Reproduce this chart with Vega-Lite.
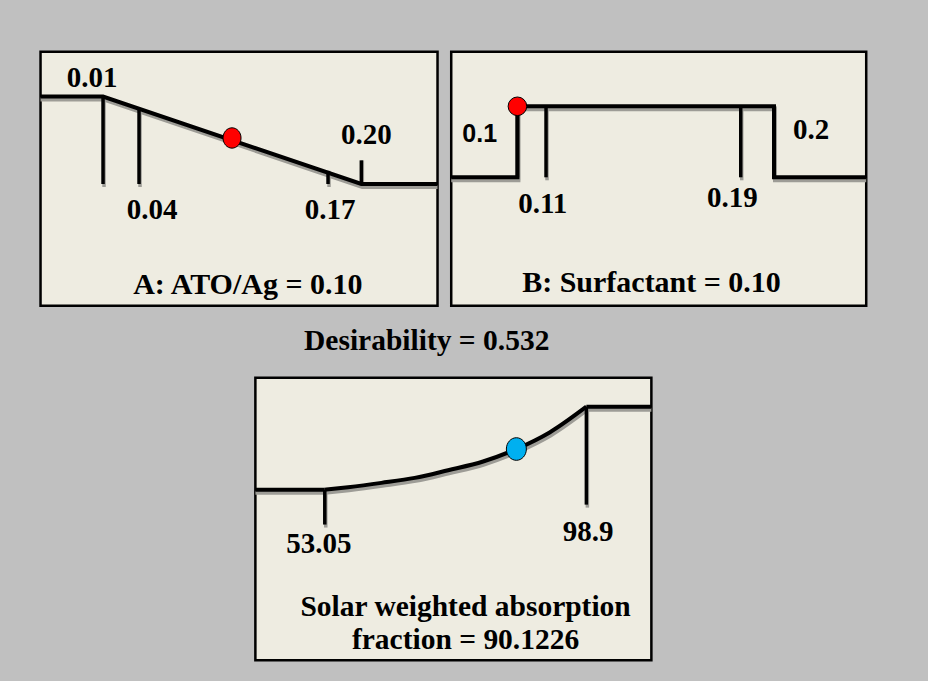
{
  "$schema": "https://vega.github.io/schema/vega-lite/v6.json",
  "background": "#c0c0c0",
  "padding": {"left": 38.5, "top": 49.7, "right": 70, "bottom": 30},
  "config": {
    "view": {"fill": "#eeece1", "stroke": "#000000", "strokeWidth": 2.5},
    "title": {"font": "Liberation Serif", "fontWeight": "bold", "fontSize": 30, "color": "#000000"},
    "text": {"font": "Liberation Serif", "fontWeight": "bold", "fontSize": 29, "color": "#000000", "baseline": "alphabetic", "align": "center"},
    "rule": {"strokeCap": "butt"}
  },
  "datasets": {
    "a_line": [
      {"k": 0, "v": -0.06, "d": 1},
      {"k": 1, "v": 0.01, "d": 1},
      {"k": 2, "v": 0.2, "d": 0},
      {"k": 3, "v": 0.3, "d": 0}
    ],
    "a_ticks": [
      {"v": 0.01, "d": 0, "d2": 1, "label": "0.01"},
      {"v": 0.04, "d": 0, "d2": 0.85, "label": "0.04"},
      {"v": 0.17, "d": 0, "d2": 0.15, "label": "0.17"},
      {"v": 0.2, "d": 0, "d2": 0.27, "label": "0.20"}
    ],
    "a_point": [{"v": 0.1, "d": 0.526}],
    "b_line": [
      {"k": 0, "v": 0.0, "d": 0},
      {"k": 1, "v": 0.1, "d": 0},
      {"k": 2, "v": 0.1, "d": 1},
      {"k": 3, "v": 0.2, "d": 1},
      {"k": 4, "v": 0.2, "d": 0},
      {"k": 5, "v": 0.3, "d": 0}
    ],
    "b_ticks": [
      {"v": 0.1, "d": 0, "d2": 1, "label": "0.1"},
      {"v": 0.11, "d": 0, "d2": 1, "label": "0.11"},
      {"v": 0.19, "d": 0, "d2": 1, "label": "0.19"},
      {"v": 0.2, "d": 0, "d2": 1, "label": "0.2"}
    ],
    "b_point": [{"v": 0.1, "d": 1}],
    "c_line": [
      {"seg": "low", "k": 0, "v": 35, "d": 0},
      {"seg": "low", "k": 1, "v": 53.05, "d": 0},
      {"seg": "ramp", "k": 2, "v": 53.05, "d": 0},
      {"seg": "ramp", "k": 3, "v": 57.56, "d": 0.03},
      {"seg": "ramp", "k": 4, "v": 64.0, "d": 0.082},
      {"seg": "ramp", "k": 5, "v": 70.46, "d": 0.142},
      {"seg": "ramp", "k": 6, "v": 76.91, "d": 0.235},
      {"seg": "ramp", "k": 7, "v": 83.68, "d": 0.34},
      {"seg": "ramp", "k": 8, "v": 90.1226, "d": 0.49},
      {"seg": "ramp", "k": 9, "v": 94.29, "d": 0.69},
      {"seg": "ramp", "k": 10, "v": 98.9, "d": 1},
      {"seg": "high", "k": 11, "v": 98.9, "d": 1},
      {"seg": "high", "k": 12, "v": 110, "d": 1}
    ],
    "c_ticks": [
      {"v": 53.05, "d": -0.42, "d2": 0, "label": "53.05"},
      {"v": 98.9, "d": -0.18, "d2": 1, "label": "98.9"}
    ],
    "c_point": [{"v": 90.1226, "d": 0.49}]
  },
  "spacing": 20,
  "center": true,
  "vconcat": [
    {
      "title": {"text": "Desirability = 0.532", "orient": "bottom", "anchor": "start", "fontSize": 29.5, "dx": 264.8, "offset": 43, "baseline": "alphabetic"},
      "spacing": 9.7,
      "hconcat": [
        {
          "width": 397,
          "height": 254,
          "title": {"text": "A: ATO/Ag = 0.10", "orient": "bottom", "frame": "group", "anchor": "middle", "dx": 8.8, "offset": -12, "baseline": "alphabetic"},
          "encoding": {
            "x": {"field": "v", "type": "quantitative", "axis": null,
                  "scale": {"domain": [0.01, 0.04, 0.1, 0.17, 0.2], "range": [62.5, 98.5, 191.5, 287.5, 320.8]}},
            "y": {"field": "d", "type": "quantitative", "axis": null,
                  "scale": {"domain": [0, 1], "range": [132.3, 44.8]}}
          },
          "layer": [
            {"data": {"name": "a_line"}, "mark": {"type": "line", "clip": true, "color": "#9d9c96", "strokeWidth": 4, "xOffset": 1, "yOffset": 3},
             "encoding": {"order": {"field": "k", "type": "quantitative"}}},
            {"data": {"name": "a_ticks"}, "mark": {"type": "rule", "color": "#9d9c96", "strokeWidth": 3.5, "xOffset": 1, "yOffset": 3},
             "encoding": {"y2": {"field": "d2"}}},
            {"data": {"name": "a_line"}, "mark": {"type": "line", "clip": true, "color": "#000000", "strokeWidth": 4},
             "encoding": {"order": {"field": "k", "type": "quantitative"}}},
            {"data": {"name": "a_ticks"}, "mark": {"type": "rule", "color": "#000000", "strokeWidth": 3.5},
             "encoding": {"y2": {"field": "d2"}}},
            {"data": {"name": "a_point"},
             "mark": {"type": "point", "filled": true, "shape": "M1,0A1,1.13,0,1,1,-1,0A1,1.13,0,1,1,1,0Z", "size": 324, "fill": "#ff0000", "stroke": "#000000", "strokeWidth": 1, "opacity": 1}},
            {"data": {"name": "a_ticks"}, "transform": [{"filter": "datum.label === '0.01'"}],
             "mark": {"type": "text", "dx": -11, "dy": -9.5},
             "encoding": {"y": {"field": "d2", "type": "quantitative"}, "text": {"field": "label"}}},
            {"data": {"name": "a_ticks"}, "transform": [{"filter": "datum.label === '0.04'"}],
             "mark": {"type": "text", "dx": 13, "dy": 35.3},
             "encoding": {"text": {"field": "label"}}},
            {"data": {"name": "a_ticks"}, "transform": [{"filter": "datum.label === '0.17'"}],
             "mark": {"type": "text", "dx": 2, "dy": 34.7},
             "encoding": {"text": {"field": "label"}}},
            {"data": {"name": "a_ticks"}, "transform": [{"filter": "datum.label === '0.20'"}],
             "mark": {"type": "text", "dx": 5, "dy": -16.7},
             "encoding": {"y": {"field": "d2", "type": "quantitative"}, "text": {"field": "label"}}}
          ]
        },
        {
          "width": 415,
          "height": 254,
          "title": {"text": "B: Surfactant = 0.10", "orient": "bottom", "frame": "group", "anchor": "middle", "dx": -7.2, "offset": -13.7, "baseline": "alphabetic"},
          "encoding": {
            "x": {"field": "v", "type": "quantitative", "axis": null,
                  "scale": {"domain": [0.1, 0.11, 0.19, 0.2], "range": [66.2, 94.8, 289.5, 322.8]}},
            "y": {"field": "d", "type": "quantitative", "axis": null,
                  "scale": {"domain": [0, 1], "range": [125.6, 54.6]}}
          },
          "layer": [
            {"data": {"name": "b_line"}, "mark": {"type": "line", "clip": true, "color": "#9d9c96", "strokeWidth": 4, "xOffset": 1, "yOffset": 3},
             "encoding": {"order": {"field": "k", "type": "quantitative"}}},
            {"data": {"name": "b_ticks"}, "mark": {"type": "rule", "color": "#9d9c96", "strokeWidth": 3.5, "xOffset": 1, "yOffset": 3},
             "encoding": {"y2": {"field": "d2"}}},
            {"data": {"name": "b_line"}, "mark": {"type": "line", "clip": true, "color": "#000000", "strokeWidth": 4},
             "encoding": {"order": {"field": "k", "type": "quantitative"}}},
            {"data": {"name": "b_ticks"}, "mark": {"type": "rule", "color": "#000000", "strokeWidth": 3.5},
             "encoding": {"y2": {"field": "d2"}}},
            {"data": {"name": "b_point"},
             "mark": {"type": "point", "filled": true, "shape": "circle", "size": 346, "fill": "#ff0000", "stroke": "#000000", "strokeWidth": 1, "opacity": 1}},
            {"data": {"name": "b_ticks"}, "transform": [{"filter": "datum.label === '0.1'"}],
             "mark": {"type": "text", "font": "Liberation Sans", "fontSize": 25, "dx": -37.7, "dy": -35.3},
             "encoding": {"text": {"field": "label"}}},
            {"data": {"name": "b_ticks"}, "transform": [{"filter": "datum.label === '0.11'"}],
             "mark": {"type": "text", "dx": -3.3, "dy": 35.4},
             "encoding": {"text": {"field": "label"}}},
            {"data": {"name": "b_ticks"}, "transform": [{"filter": "datum.label === '0.19'"}],
             "mark": {"type": "text", "dx": -8.3, "dy": 29.7},
             "encoding": {"text": {"field": "label"}}},
            {"data": {"name": "b_ticks"}, "transform": [{"filter": "datum.label === '0.2'"}],
             "mark": {"type": "text", "dx": 37.2, "dy": -38},
             "encoding": {"text": {"field": "label"}}}
          ]
        }
      ]
    },
    {
      "width": 396,
      "height": 282.5,
      "title": {"text": ["Solar weighted absorption", "fraction = 90.1226"], "orient": "bottom", "frame": "group", "anchor": "middle", "fontSize": 29.5, "dx": 12.2, "offset": -44, "baseline": "alphabetic", "lineHeight": 33.3},
      "encoding": {
        "x": {"field": "v", "type": "quantitative", "axis": null,
              "scale": {"domain": [53.05, 90.1226, 98.9], "range": [69.4, 261, 331]}},
        "y": {"field": "d", "type": "quantitative", "axis": null,
              "scale": {"domain": [0, 1], "range": [112, 29]}}
      },
      "layer": [
        {"data": {"name": "c_line"}, "mark": {"type": "line", "clip": true, "color": "#9d9c96", "strokeWidth": 4, "xOffset": 1, "yOffset": 3, "interpolate": "monotone"},
         "encoding": {"detail": {"field": "seg"}, "order": {"field": "k", "type": "quantitative"}}},
        {"data": {"name": "c_ticks"}, "mark": {"type": "rule", "color": "#9d9c96", "strokeWidth": 3.5, "xOffset": 1, "yOffset": 3},
         "encoding": {"y2": {"field": "d2"}}},
        {"data": {"name": "c_line"}, "mark": {"type": "line", "clip": true, "color": "#000000", "strokeWidth": 4, "interpolate": "monotone"},
         "encoding": {"detail": {"field": "seg"}, "order": {"field": "k", "type": "quantitative"}}},
        {"data": {"name": "c_ticks"}, "mark": {"type": "rule", "color": "#000000", "strokeWidth": 3.5},
         "encoding": {"y2": {"field": "d2"}}},
        {"data": {"name": "c_point"},
         "mark": {"type": "point", "filled": true, "shape": "M1,0A1,1.13,0,1,1,-1,0A1,1.13,0,1,1,1,0Z", "size": 400, "fill": "#00b0f0", "stroke": "#000000", "strokeWidth": 1, "opacity": 1}},
        {"data": {"name": "c_ticks"}, "transform": [{"filter": "datum.label === '53.05'"}],
         "mark": {"type": "text", "dx": -6, "dy": 28.4},
         "encoding": {"text": {"field": "label"}}},
        {"data": {"name": "c_ticks"}, "transform": [{"filter": "datum.label === '98.9'"}],
         "mark": {"type": "text", "dx": 1.7, "dy": 36.7},
         "encoding": {"text": {"field": "label"}}}
      ]
    }
  ]
}
